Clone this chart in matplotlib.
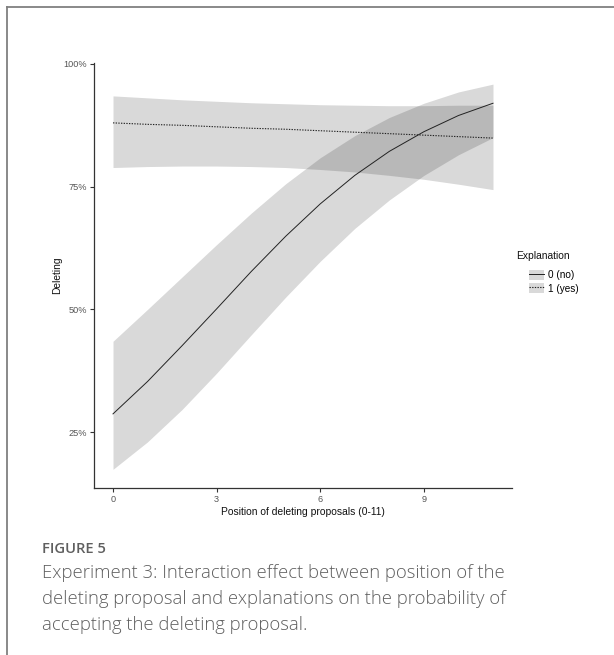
import matplotlib
matplotlib.use("Agg")
import matplotlib.pyplot as plt
from matplotlib.lines import Line2D
from matplotlib.patches import Patch
import numpy as np

# ---- data ----
position = [0, 1, 2, 3, 4, 5, 6, 7, 8, 9, 10, 11]

no_pred = [28.7, 35.3, 42.6, 50.1, 57.7, 64.9, 71.5, 77.3, 82.2, 86.2, 89.5, 92.0]
no_low  = [17.4, 23.0, 29.6, 37.0, 44.8, 52.5, 59.8, 66.5, 72.3, 77.3, 81.5, 85.0]
no_high = [43.5, 50.0, 56.6, 63.2, 69.6, 75.6, 80.9, 85.4, 89.1, 92.0, 94.3, 95.9]

yes_pred = [88.0, 87.7, 87.5, 87.2, 86.9, 86.7, 86.4, 86.1, 85.8, 85.5, 85.2, 84.9]
yes_low  = [78.9, 79.1, 79.2, 79.2, 79.1, 78.9, 78.5, 78.0, 77.3, 76.5, 75.5, 74.4]
yes_high = [93.5, 93.1, 92.7, 92.4, 92.1, 91.9, 91.7, 91.6, 91.5, 91.5, 91.6, 91.6]

x_ticks = [0, 3, 6, 9]
y_ticks = [25, 50, 75, 100]
y_tick_labels = ["25%", "50%", "75%", "100%"]
legend_labels = ["0 (no)", "1 (yes)"]

W, H = 614, 655
fig = plt.figure(figsize=(W / 100, H / 100), dpi=100)
fig.patch.set_facecolor("white")

ax = fig.add_axes([94 / W, 1 - 488 / H, (512 - 94) / W, (488 - 63) / H])

fill_kw = dict(color="black", alpha=0.15, linewidth=0)
ax.fill_between(position, no_low, no_high, **fill_kw)
ax.fill_between(position, yes_low, yes_high, **fill_kw)
ax.plot(position, no_pred, color="#222222", lw=0.7, ls="-")
ax.plot(position, yes_pred, color="#222222", lw=0.8, ls=(0, (1.2, 1.2)))

ax.set_xlim(-0.55, 11.55)
ax.set_ylim(13.6, 100.2)
ax.set_xticks(x_ticks)
ax.set_yticks(y_ticks)
ax.set_yticklabels(y_tick_labels)

for s in ["top", "right"]:
    ax.spines[s].set_visible(False)
for s in ["left", "bottom"]:
    ax.spines[s].set_color("#333333")
    ax.spines[s].set_linewidth(0.9)
ax.tick_params(axis="both", direction="out", length=3, width=0.8, color="#333333",
               labelsize=6.6, labelcolor="#555555", pad=2)
for lab in ax.get_xticklabels() + ax.get_yticklabels():
    lab.set_fontfamily("Liberation Sans")

ax.set_xlabel("Position of deleting proposals (0-11)", fontsize=7.4,
              family="Liberation Sans", color="#111111", labelpad=2.5)
ax.set_ylabel("Deleting", fontsize=7.4, family="Liberation Sans",
              color="#111111", labelpad=1)

# legend
handles = [
    (Patch(facecolor="black", alpha=0.15, edgecolor="none"),
     Line2D([], [], color="#222222", lw=0.7, ls="-")),
    (Patch(facecolor="black", alpha=0.15, edgecolor="none"),
     Line2D([], [], color="#222222", lw=0.8, ls=(0, (1.2, 1.2)))),
]
fig.text(516 / W, 1 - 256 / H, "Explanation", fontsize=7.4, family="Liberation Sans",
         color="#111111", ha="left", va="center")
ax.legend(handles, legend_labels, loc="upper left",
          bbox_to_anchor=(529 / W, 1 - 270 / H), bbox_transform=fig.transFigure,
          frameon=False, prop={"family": "Liberation Sans", "size": 7.2},
          handlelength=1.45, handleheight=1.2, handletextpad=0.4,
          labelspacing=0.25, borderpad=0, borderaxespad=0)

# frame lines
fig.add_artist(Line2D([7 / W, 1.0], [1 - 7 / H, 1 - 7 / H], transform=fig.transFigure,
                      color="#808080", lw=1.3))
fig.add_artist(Line2D([7 / W, 7 / W], [1 - 7 / H, 0.0], transform=fig.transFigure,
                      color="#808080", lw=1.3))

# caption
fig.text(42 / W, 1 - 549 / H, "FIGURE 5", fontsize=10.6, family="Open Sans",
         weight="semibold", color="#5f5f5f", ha="left", va="center")
caption_lines = ["Experiment 3: Interaction effect between position of the",
                 "deleting proposal and explanations on the probability of",
                 "accepting the deleting proposal."]
for i, line in enumerate(caption_lines):
    fig.text(42 / W, 1 - (573 + 26 * i) / H, line, fontsize=13.3, family="Open Sans",
             weight="light", color="#5e5e5e", ha="left", va="center")

fig.savefig("out.png", dpi=100)
